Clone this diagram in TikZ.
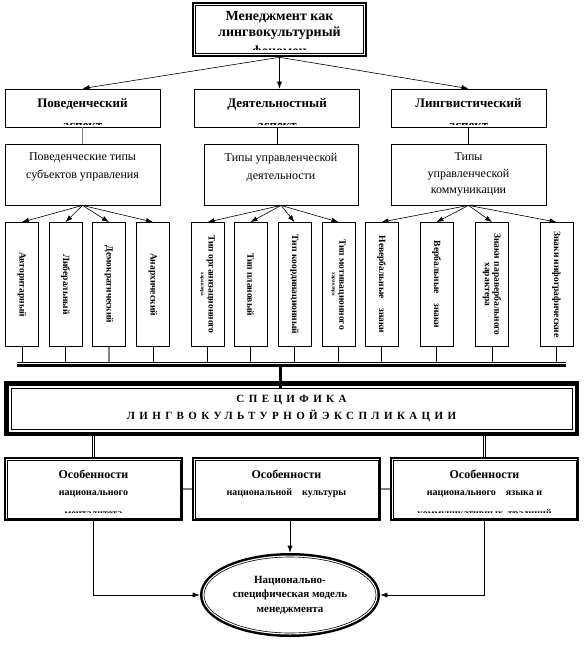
\documentclass[tikz,border=0pt]{standalone}
\usepackage{fontspec}
\setmainfont{Liberation Serif}
\usetikzlibrary{arrows.meta,shapes.geometric}

\newcommand{\vtext}[1]{\rotatebox{-90}{#1}}

\begin{document}
\begin{tikzpicture}[x=1pt,y=-1pt,
  box/.style={draw, line width=0.8pt, fill=white, inner sep=0pt, align=center},
  dbox/.style={box, line width=0.6pt, preaction={draw, line width=6.5pt}, preaction={draw=white, line width=2.5pt}},
  bigbox/.style={box, line width=0.7pt, preaction={draw, line width=14pt}, preaction={draw=white, line width=5pt}},
  ovalbox/.style={ellipse, draw, fill=white, inner sep=0pt, align=center, line width=0.6pt, preaction={draw, line width=8pt}, preaction={draw=white, line width=3pt}},
  vbox/.style={box, minimum width=33, minimum height=124, font=\fontsize{9.5}{10.5}\selectfont\bfseries},
  cut/.style={inner sep=0pt, anchor=base},
  arr/.style={-{Latex[length=7pt,width=5pt]}, line width=0.6pt},
  ln/.style={line width=0.7pt},
  dline/.style={double, double distance=1.4pt, line width=0.5pt}
]

% Цвета
\definecolor{lineGray}{HTML}{808080}

% Поле рисунка
\useasboundingbox (0,0) rectangle (584,653);

% Верхний блок
\node[dbox, minimum width=168, minimum height=48, text depth=11pt, font=\fontsize{14}{16}\selectfont\bfseries] (top) at (279.5,29.5) {Менеджмент как\\лингвокультурный};
\begin{scope}
  \clip (top.north west) rectangle ([yshift=4pt]top.south east);
  \node[cut, font=\fontsize{14}{16}\selectfont\bfseries] (topc) at (279.5,55.5) {феномен};
\end{scope}

% Аспекты
\node[box, minimum width=155, minimum height=38, text depth=10pt, font=\fontsize{13}{15}\selectfont\bfseries] (p1) at (82.5,108) {Поведенческий};
\node[box, minimum width=165, minimum height=38, text depth=10pt, font=\fontsize{13}{15}\selectfont\bfseries] (p2) at (277,108) {Деятельностный};
\node[box, minimum width=155, minimum height=38, text depth=10pt, font=\fontsize{13}{15}\selectfont\bfseries] (p3) at (468.5,108) {Лингвистический};
\begin{scope}
  \clip (p1.north west) rectangle ([yshift=3pt]p3.south east);
  \node[cut, font=\fontsize{13}{15}\selectfont\bfseries] (p1c) at (82.5,129.5) {аспект};
  \node[cut, font=\fontsize{13}{15}\selectfont\bfseries] (p2c) at (277,129.5) {аспект};
  \node[cut, font=\fontsize{13}{15}\selectfont\bfseries] (p3c) at (468.5,129.5) {аспект};
\end{scope}

% Типы
\node[box, minimum width=155, minimum height=61, text depth=17pt, font=\fontsize{12}{18}\selectfont] (t1) at (82.5,174.5) {Поведенческие типы\\субъектов управления};
\node[box, minimum width=154, minimum height=61, text depth=17pt, font=\fontsize{12}{18}\selectfont] (t2) at (281,174.5) {Типы управленческой\\деятельности};
\node[box, minimum width=155, minimum height=61, font=\fontsize{12}{16.5}\selectfont] (t3) at (468.5,174.5) {Типы\\управленческой\\коммуникации};

% Вертикальные блоки
\node[vbox] (a1) at (22,284.5) {\vtext{Авторитарный}};
\node[vbox] (a2) at (65.5,284.5) {\vtext{Либеральный}};
\node[vbox] (a3) at (109,284.5) {\vtext{Демократический}};
\node[vbox] (a4) at (153,284.5) {\vtext{Анархический}};
\node[vbox] (a5) at (207.5,284.5) {\vtext{\shortstack{Тип организационного\\{\tiny характера}}}};
\node[vbox] (a6) at (250.5,284.5) {\vtext{Тип плановый}};
\node[vbox] (a7) at (294.5,284.5) {\vtext{Тип координационный}};
\node[vbox] (a8) at (338.5,284.5) {\vtext{\shortstack{Тип мотивационного\\{\tiny характера}}}};
\node[vbox] (a9) at (381.5,284.5) {\vtext{Невербальные\quad знаки}};
\node[vbox] (a10) at (436.5,284.5) {\vtext{Вербальные\quad знаки}};
\node[vbox] (a11) at (492,284.5) {\vtext{\shortstack{Знаки паравербального\\характера}}};
\node[vbox] (a12) at (556.5,284.5) {\vtext{Знаки инфографические}};

% Специфика
\node[bigbox, minimum width=561, minimum height=41, font=\fontsize{11}{17}\selectfont\bfseries\addfontfeature{LetterSpace=40}] (spec) at (291.5,408.5) {СПЕЦИФИКА\\ЛИНГВОКУЛЬТУРНОЙЭКСПЛИКАЦИИ};

% Особенности
\node[dbox, minimum width=173, minimum height=58, text depth=13pt, font=\fontsize{12}{17.5}\selectfont\bfseries] (b1) at (93.5,489) {Особенности\\{\fontsize{10}{17.5}\selectfont национального}};
\node[dbox, minimum width=183, minimum height=58, text depth=13pt, font=\fontsize{12}{17.5}\selectfont\bfseries] (b2) at (286.5,489) {Особенности\\{\fontsize{10}{17.5}\selectfont национальной\quad культуры}};
\node[dbox, minimum width=183, minimum height=58, text depth=13pt, font=\fontsize{12}{17.5}\selectfont\bfseries] (b3) at (484.5,489) {Особенности\\{\fontsize{10}{17.5}\selectfont национального\quad языка и}};
\begin{scope}
  \clip (b1.north west) rectangle ([yshift=6pt]b3.south east);
  \node[cut, font=\fontsize{10}{12}\selectfont\bfseries] (b1c) at (93.5,516.5) {менталитета};
  \node[cut, font=\fontsize{10}{12}\selectfont\bfseries] (b3c) at (484.5,516.5) {коммуникативных\ \ традиций};
\end{scope}

% Модель
\node[ovalbox, minimum width=172, minimum height=76, font=\fontsize{11}{14.5}\selectfont\bfseries] (ell) at (290,595) {Национально-\\специфическая модель\\менеджмента};

% Стрелки от верхнего блока
\coordinate (tops) at ([yshift=-3.5pt]top.south);
\draw[arr] (tops) -- (p1.north);
\draw[arr] (tops) -- (tops |- p2.north);
\draw[arr] (tops) -- (p3.north);

% Аспекты -> типы
\draw[ln, lineGray, line width=1.2pt] (p1.south) -- (p1.south |- t1.north);
\draw[ln] (p2.south) -- (p2.south |- t2.north);
\draw[ln] (p3.south) -- (p3.south |- t3.north);

% Типы -> вертикальные блоки
\foreach \i in {1,...,4} \draw[arr] (t1.south) -- (a\i.north);
\foreach \i in {5,...,8} \draw[arr] (t2.south) -- (a\i.north);
\foreach \i in {9,...,12} \draw[arr] (t3.south) -- (a\i.north);

% Шина
\coordinate (barL) at (17,362);
\coordinate (barR) at (566,362);
\coordinate (barM) at (280,365.5);
\foreach \i in {1,2,4,5,6,7,8,9,10,11,12} \draw[ln] (a\i.south) -- (a\i.south |- barL);
\draw[ln, lineGray, line width=1.2pt] (a3.south) -- (a3.south |- barL);
\draw[ln] (barL) -- (barR);
\draw[line width=3pt] ([yshift=-3.5pt]barL) -- ([yshift=-3.5pt]barR);
\draw[line width=3pt] (barM) -- (barM |- spec.north);

% Специфика -> особенности
\draw[dline] ([yshift=-7pt]spec.south -| b1.north) -- ([yshift=3pt]b1.north);
\draw[dline] ([yshift=-7pt]spec.south -| barM) -- ([yshift=3pt]b2.north -| barM);
\draw[dline] ([yshift=-7pt]spec.south -| b3.north) -- ([yshift=3pt]b3.north);
\draw[lineGray, line width=2pt] ([xshift=3pt]b1.east) -- ([xshift=-3pt]b2.west);
\draw[lineGray, line width=2pt] ([xshift=3pt]b2.east) -- ([xshift=-3pt]b3.west);

% Особенности -> модель
\coordinate (b2s) at ([yshift=-3pt]b2.south);
\draw[arr, shorten >=4pt] ([yshift=-3pt]b1.south) |- (ell.west);
\draw[arr, shorten >=4pt] (ell.north |- b2s) -- (ell.north);
\draw[arr, shorten >=4pt] ([yshift=-3pt]b3.south) |- (ell.east);

\end{tikzpicture}
\end{document}
